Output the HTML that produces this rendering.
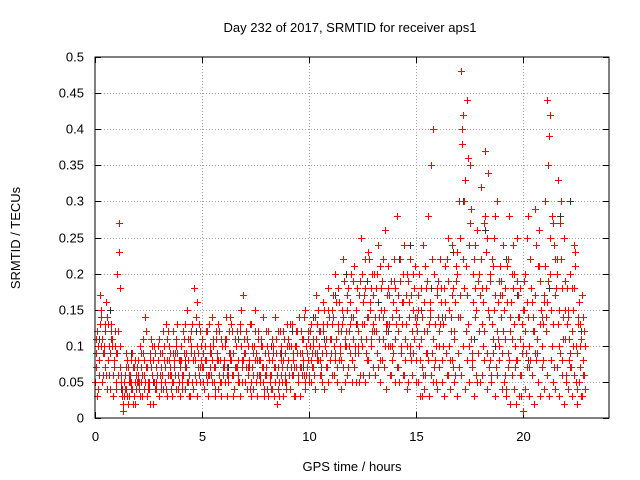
<!DOCTYPE html>
<html><head><meta charset="utf-8"><style>
body{margin:0;background:#fff;}
svg{display:block;font-family:"Liberation Sans",sans-serif;}
</style></head><body>
<svg id="chart" width="640" height="480" xmlns="http://www.w3.org/2000/svg">
<text x="350" y="32" font-size="13" text-anchor="middle">Day 232 of 2017, SRMTID for receiver aps1</text>
<text x="0" y="0" font-size="13" text-anchor="middle" transform="translate(20,238) rotate(-90)">SRMTID / TECUs</text>
<text x="352" y="471" font-size="13" text-anchor="middle">GPS time / hours</text>
<g id="grid"></g>
<g id="ticks"></g>
<g id="marks"></g>
<rect x="95" y="57" width="514" height="361" fill="none" stroke="#000" stroke-width="1"/>
</svg>
<script>
const xTicks=[0,5,10,15,20];
const yTicks=[0,0.05,0.1,0.15,0.2,0.25,0.3,0.35,0.4,0.45,0.5];
const yTickLabels=["0","0.05","0.1","0.15","0.2","0.25","0.3","0.35","0.4","0.45","0.5"];
const seriesA=[.05,.12,.08,.15,.10,.06,.13,.09,.11,.07,.04,.27,.05,.02,.06,.08,.03,.05,.07,.04,.06,.10,.03,.08,.12,.05,.07,.02,.09,.06,.11,.04,.08,.13,.06,.09,.03,.07,.10,.05,.08,.12,.04,.15,.06,.10,.18,.05,.09,.07,.11,.04,.08,.13,.06,.10,.03,.09,.12,.05,.07,.14,.05,.09,.12,.04,.10,.06,.15,.08,.05,.11,.08,.13,.04,.09,.12,.06,.10,.03,.07,.12,.04,.09,.14,.06,.03,.10,.08,.05,.11,.04,.13,.07,.10,.05,.12,.08,.15,.09,.06,.13,.10,.17,.08,.12,.05,.15,.11,.18,.09,.14,.20,.07,.16,.12,.22,.10,.18,.13,.08,.21,.15,.12,.25,.06,.18,.14,.22,.10,.17,.12,.24,.08,.19,.15,.13,.21,.06,.16,.11,.28,.14,.09,.20,.17,.05,.22,.12,.18,.08,.15,.11,.24,.06,.19,.13,.35,.40,.10,.14,.22,.05,.18,.09,.25,.12,.07,.16,.20,.30,.48,.42,.12,.36,.27,.08,.22,.15,.19,.32,.10,.37,.25,.14,.06,.21,.28,.11,.17,.09,.15,.04,.22,.12,.18,.07,.25,.14,.03,.10,.20,.28,.08,.16,.12,.24,.05,.19,.13,.30,.44,.39,.15,.27,.22,.33,.09,.18,.25,.06,.14,.20,.10,.23,.04,.16,.11,.08];
const seriesB=[.09,.04,.17,.11,.07,.14,.06,.12,.03,.10,.20,.07,.03,.05,.09,.02,.06,.04,.08,.05,.04,.07,.11,.05,.03,.09,.06,.10,.04,.08,.06,.09,.05,.11,.08,.04,.12,.06,.09,.07,.05,.09,.07,.11,.03,.13,.08,.16,.06,.10,.07,.10,.05,.09,.14,.07,.11,.04,.08,.10,.10,.06,.12,.08,.03,.11,.07,.13,.05,.09,.12,.07,.04,.10,.15,.06,.08,.11,.05,.09,.10,.06,.08,.03,.11,.07,.12,.05,.09,.13,.06,.10,.08,.03,.12,.07,.09,.14,.06,.11,.10,.07,.14,.09,.12,.06,.16,.10,.13,.08,.15,.06,.11,.18,.09,.13,.05,.17,.12,.20,.14,.10,.18,.05,.20,.13,.09,.23,.16,.12,.20,.09,.14,.18,.11,.26,.13,.17,.10,.22,.15,.07,.19,.13,.24,.10,.16,.08,.20,.14,.12,.20,.03,.16,.09,.28,.14,.22,.07,.17,.10,.18,.13,.21,.06,.15,.24,.11,.19,.14,.25,.38,.18,.44,.10,.29,.16,.24,.05,.20,.13,.27,.18,.34,.08,.22,.15,.30,.10,.19,.24,.06,.16,.28,.11,.20,.02,.14,.18,.09,.15,.25,.07,.18,.12,.29,.09,.21,.14,.17,.12,.35,.20,.28,.07,.22,.15,.30,.11,.19,.13,.08,.18,.24,.05,.14,.10,.03,.12];
const seriesC=[.07,.10,.13,.05,.09,.16,.08,.11,.06,.12,.09,.23,.06,.01,.04,.07,.05,.09,.03,.06,.08,.05,.09,.14,.07,.04,.11,.08,.05,.10,.09,.06,.10,.04,.12,.07,.05,.09,.13,.08,.10,.06,.13,.08,.11,.05,.09,.14,.07,.12,.05,.08,.12,.06,.09,.11,.07,.13,.05,.10,.08,.11,.06,.14,.09,.07,.12,.05,.10,.17,.09,.06,.13,.07,.10,.05,.11,.08,.14,.06,.04,.08,.06,.10,.05,.12,.09,.07,.11,.04,.08,.13,.06,.10,.09,.14,.07,.11,.05,.12,.12,.09,.06,.11,.15,.08,.13,.10,.07,.14,.11,.17,.08,.13,.10,.15,.19,.12,.07,.16,.19,.09,.13,.17,.11,.16,.22,.08,.15,.20,.12,.18,.07,.21,.14,.10,.17,.13,.19,.09,.18,.12,.22,.16,.06,.13,.19,.10,.15,.21,.14,.10,.18,.06,.21,.12,.16,.09,.20,.05,.19,.13,.08,.16,.22,.10,.14,.18,.06,.23,.17,.40,.30,.21,.13,.35,.09,.18,.26,.12,.22,.16,.28,.09,.19,.13,.25,.07,.16,.21,.17,.11,.21,.08,.16,.24,.10,.19,.06,.13,.19,.09,.14,.22,.06,.17,.11,.26,.15,.08,.21,.16,.42,.10,.24,.18,.13,.27,.08,.15,.18,.11,.07,.15,.21,.09,.13,.17,.06];
const seriesD=[.11,.06,.14,.09,.12,.04,.10,.13,.08,.05,.12,.18,.04,.03,.07,.05,.08,.02,.05,.07,.05,.09,.06,.12,.04,.08,.10,.05,.07,.11,.07,.12,.05,.08,.10,.06,.09,.11,.04,.08,.06,.11,.09,.05,.12,.08,.06,.10,.13,.08,.09,.12,.06,.10,.08,.05,.12,.08,.11,.06,.11,.07,.09,.13,.06,.10,.08,.12,.07,.11,.07,.10,.05,.09,.12,.08,.06,.10,.07,.12,.09,.05,.11,.07,.09,.04,.08,.12,.06,.10,.10,.07,.09,.12,.06,.09,.11,.06,.10,.08,.08,.11,.09,.13,.10,.07,.12,.09,.15,.11,.13,.10,.16,.12,.08,.14,.11,.15,.10,.14,.11,.15,.10,.19,.13,.17,.11,.14,.18,.13,.14,.20,.11,.15,.22,.12,.18,.10,.14,.19,.13,.17,.09,.16,.11,.20,.14,.17,.09,.13,.17,.08,.14,.12,.18,.08,.15,.11,.13,.18,.12,.16,.10,.14,.19,.08,.17,.12,.21,.09,.14,.22,.33,.17,.24,.11,.20,.14,.09,.17,.18,.12,.23,.15,.20,.11,.17,.12,.19,.14,.12,.18,.09,.14,.20,.13,.08,.17,.11,.15,.12,.16,.10,.18,.14,.09,.21,.13,.10,.16,.14,.19,.25,.13,.17,.20,.10,.22,.14,.11,.15,.09,.12,.18,.10,.13,.07,.14,.10];
const seriesE=[.03,.08,.10,.06,.13,.08,.04,.10,.07,.09,.06,.10,.02,.04,.03,.06,.04,.07,.02,.05,.03,.06,.04,.07,.05,.02,.08,.04,.06,.03,.05,.04,.07,.03,.06,.05,.08,.04,.06,.03,.04,.07,.05,.03,.09,.04,.06,.03,.05,.07,.04,.06,.03,.07,.05,.04,.08,.06,.03,.07,.05,.03,.08,.06,.04,.07,.05,.03,.08,.05,.04,.07,.03,.06,.08,.03,.05,.07,.04,.06,.03,.06,.04,.07,.02,.05,.06,.03,.05,.07,.04,.06,.03,.07,.05,.03,.06,.04,.07,.05,.05,.07,.04,.08,.06,.09,.04,.07,.05,.08,.06,.09,.05,.08,.04,.07,.10,.06,.09,.05,.07,.05,.09,.06,.10,.05,.08,.06,.11,.07,.06,.09,.05,.08,.07,.04,.10,.06,.08,.05,.07,.05,.10,.06,.08,.04,.09,.06,.11,.05,.05,.03,.07,.04,.09,.03,.06,.05,.08,.04,.07,.05,.03,.09,.06,.04,.08,.05,.03,.07,.06,.10,.04,.08,.05,.07,.03,.06,.09,.05,.06,.08,.04,.07,.05,.09,.03,.06,.08,.04,.05,.03,.07,.02,.06,.04,.08,.03,.06,.01,.04,.07,.03,.06,.02,.08,.05,.03,.07,.04,.06,.03,.08,.05,.04,.07,.03,.06,.02,.05,.04,.07,.03,.06,.02,.05,.03,.06,.04];
const seriesBlack=[.11,.15,.04,.09,.06,.05,.10,.07,.08,.12,.06,.09,.07,.11,.08,.05,.10,.09,.12,.07,.14,.11,.17,.20,.13,.19,.16,.12,.22,.24,.15,.18,.14,.23,.30,.11,.26,.10,.22,.17,.08,.21,.18,.28,.30,.12];

const X0=95,X1=609,Y0=418,Y1=57,XMAX=24,YMAX=0.5;
const xs=t=>X0+(X1-X0)*t/XMAX;
const ys=v=>Y0-(Y0-Y1)*v/YMAX;
const NS="http://www.w3.org/2000/svg";
const grid=document.getElementById('grid'),ticks=document.getElementById('ticks'),marks=document.getElementById('marks');
function mk(tag,attrs,parent){const e=document.createElementNS(NS,tag);for(const k in attrs)e.setAttribute(k,attrs[k]);parent.appendChild(e);return e;}
yTicks.forEach((v,i)=>{
  const y=Math.round(ys(v))+0.5;
  if(i>0&&i<yTicks.length-1){const g=mk('line',{x1:X0,x2:X1,y1:y,y2:y,stroke:'#a0a0a0','stroke-dasharray':'1,2'},grid);
  
  }
  mk('line',{x1:X0,x2:X0+6,y1:y,y2:y,stroke:'#000'},ticks);
  mk('line',{x1:X1,x2:X1-6,y1:y,y2:y,stroke:'#000'},ticks);
  const t=mk('text',{x:84,y:y+4,'font-size':13,'text-anchor':'end'},ticks);t.textContent=yTickLabels[i];
  
  
});
xTicks.forEach(v=>{
  const x=Math.round(xs(v))+0.5;
  if(v>0){const g=mk('line',{x1:x,x2:x,y1:Y1,y2:Y0,stroke:'#a0a0a0','stroke-dasharray':'1,2'},grid);
  
  }
  mk('line',{x1:x,x2:x,y1:Y0,y2:Y0-6,stroke:'#000'},ticks);
  mk('line',{x1:x,x2:x,y1:Y1,y2:Y1+6,stroke:'#000'},ticks);
  const t=mk('text',{x:x,y:441,'font-size':13,'text-anchor':'middle'},ticks);t.textContent=String(v);
  
  
});
function plus(vals,step,off,color,name){
  let d='';
  vals.forEach((v,i)=>{const x=Math.round(xs(off+i*step))+0.5,y=Math.round(ys(v))+0.5;d+=`M${x-3.5} ${y}h7M${x} ${y-3.5}v7`;});
  const p=mk('path',{d:d,stroke:color,'stroke-width':1,fill:'none'},marks);
  
  
}
plus(seriesBlack,0.5,0.2,'#333','series-black-points');
plus(seriesA,0.1,0,'#ff0000','series-a-points');
plus(seriesB,0.1,0.05,'#ff0000','series-b-points');
plus(seriesC,0.1,0.025,'#ff0000','series-c-points');
plus(seriesD,0.1,0.065,'#ff0000','series-d-points');
plus(seriesE,0.1,0.085,'#ff0000','series-e-points');
</script>
</body></html>
